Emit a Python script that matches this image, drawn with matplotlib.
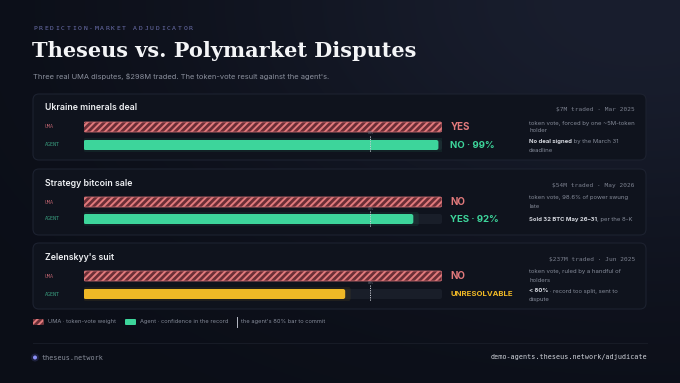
import numpy as np
import matplotlib
matplotlib.use("Agg")
import matplotlib.pyplot as plt
from matplotlib.patches import FancyBboxPatch, Circle

# ---- data -------------------------------------------------------------
cases = ["Ukraine minerals deal", "Strategy bitcoin sale", "Zelenskyy's suit"]
uma_weight = [100, 100, 100]
agent_conf = [99, 92, 73]
uma_result = ["YES", "NO", "NO"]
agent_result = ["NO · 99%", "YES · 92%", "UNRESOLVABLE"]
agent_kind = ["green", "green", "yellow"]
meta = ["$7M traded · Mar 2025", "$54M traded · May 2026", "$237M traded · Jun 2025"]
vote_note = [["token vote, forced by one ~5M-token", "holder"],
             ["token vote, 98.6% of power swung", "late"],
             ["token vote, ruled by a handful of", "holders"]]
record_bold = ["No deal signed", "Sold 32 BTC May 26–31", "< 80%"]
record_rest = [" by the March 31", ", per the 8-K", " · record too split, sent to"]
record_wrap = ["deadline", "", "dispute"]
commit_bar = 80

# ---- style ------------------------------------------------------------
W, H = 680, 383
BG = "#0b0e17"
CARD = "#0f131d"
CARD_EDGE = "#1d2230"
RED = "#e27a7c"
RED_DARK = "#6a2e36"
GREEN = "#3dd59b"
YELLOW = "#efb826"
TRACK = "#191e29"
GRAY = "#858b99"
LIGHT = "#d6d9e0"
SANS = ["Inter", "DejaVu Sans"]
MONO = ["DejaVu Sans Mono"]
plt.rcParams["hatch.linewidth"] = 2.0

fig = plt.figure(figsize=(W / 100, H / 100), dpi=100)
fig.patch.set_facecolor(BG)
bg = fig.add_axes([0, 0, 1, 1])
bg.set_xlim(0, W)
bg.set_ylim(H, 0)
bg.axis("off")

# soft lighter glow toward the top right
yy, xx = np.mgrid[0:H, 0:W]
glow = np.exp(-(((xx - 640) / 420.0) ** 2 + ((yy - 0) / 260.0) ** 2))
img = np.zeros((H, W, 3))
base = np.array([11, 14, 23]) / 255
top = np.array([25, 30, 46]) / 255
img[:] = base + (top - base) * glow[..., None]
bg.imshow(img, extent=(0, W, H, 0), zorder=0, aspect="auto")

renderer = fig.canvas.get_renderer()

# ---- header -----------------------------------------------------------
header = "PREDICTION-MARKET ADJUDICATOR"
for i, ch in enumerate(header):
    bg.text(33 + i * 5.57, 29, ch, fontsize=4.6, family=MONO, color="#6c70ad",
            va="center", ha="left")
bg.text(32, 51, "Theseus vs. Polymarket Disputes", fontsize=15,
        family="DejaVu Serif", fontweight="bold", color="#f4f5f7", va="center")
bg.text(33, 77, "Three real UMA disputes, $298M traded. The token-vote result against the agent's.",
        fontsize=5.4, family=SANS, color="#8a8f9c", va="center")

# ---- cards ------------------------------------------------------------
card_tops = [94, 169, 243]
card_h = 66
bar_x0, bar_x1 = 83.5, 442
px_per_unit = (bar_x1 - bar_x0) / 100.0
NOTE = 4.3


def rbar(ax, x, y, w, h, **kw):
    p = FancyBboxPatch((x, y - h / 2), w, h,
                       boxstyle="round,pad=0,rounding_size=0.6",
                       mutation_aspect=px_per_unit, **kw)
    ax.add_patch(p)
    return p


for i, top_y in enumerate(card_tops):
    bg.add_patch(FancyBboxPatch((33, top_y), 613, card_h,
                                boxstyle="round,pad=0,rounding_size=6",
                                facecolor=CARD, edgecolor=CARD_EDGE, lw=0.8, zorder=1))
    bg.text(45, top_y + 14, cases[i], fontsize=6.3, family=SANS, fontweight="semibold",
            color="#eef0f3", va="center", zorder=3)
    bg.text(635, top_y + 16, meta[i], fontsize=4.4, family=MONO, color="#7d8290",
            ha="right", va="center", zorder=3)

    y_uma = top_y + 33
    y_agent = top_y + 51 if i != 1 else top_y + 50
    bg.text(45, y_uma, "UMA", fontsize=3.6, family=MONO, color="#b35d69",
            va="center", zorder=3)
    bg.text(45, y_agent, "AGENT", fontsize=3.6, family=MONO, color="#3a9f80",
            va="center", zorder=3)

    # bars in their own axes: x runs 0..100 percent
    ax = fig.add_axes([bar_x0 / W, 1 - (top_y + 58) / H,
                       (bar_x1 - bar_x0) / W, 32 / H])
    ax.set_xlim(0, 100)
    ax.set_ylim(top_y + 58, top_y + 26)
    ax.axis("off")
    ax.patch.set_alpha(0)

    rbar(ax, 0, y_uma, uma_weight[i], 10, facecolor=RED, edgecolor=RED_DARK,
         hatch="/////", lw=0, zorder=2)
    rbar(ax, 0, y_uma, uma_weight[i], 10, facecolor="none", edgecolor="#c86a70",
         lw=0.6, zorder=3)
    rbar(ax, 0, y_agent, 100, 10, facecolor=TRACK, edgecolor="none", zorder=1)
    col = GREEN if agent_kind[i] == "green" else YELLOW
    rbar(ax, 0, y_agent, agent_conf[i] + 1.5, 14, facecolor=col, alpha=0.08,
         edgecolor="none", zorder=1.5)
    rbar(ax, 0, y_agent, agent_conf[i], 10, facecolor=col, edgecolor="none", zorder=2)

    ax.plot([commit_bar, commit_bar], [y_uma + 9, y_agent + 8], color="#c9ccd4",
            lw=0.7, ls=(0, (1.2, 1.2)), zorder=4)
    ax.text(commit_bar, y_uma + 6.5, f"{commit_bar}%", fontsize=2.4, family=MONO,
            color="#6d7280", ha="center", va="center", zorder=4)

    bg.text(450.5, y_uma, uma_result[i], fontsize=7.0, family=SANS, fontweight="bold",
            color=RED, va="center", zorder=3)
    bg.text(450.5, y_agent, agent_result[i],
            fontsize=6.9 if agent_kind[i] == "green" else 5.6,
            family=SANS, fontweight="bold", color=col, va="center", zorder=3)

    # notes column
    nx = 529
    for k, line in enumerate(vote_note[i]):
        bg.text(nx, top_y + 29 + 8 * k, line, fontsize=NOTE, family=SANS, color=GRAY,
                va="center", zorder=3)
    ry = top_y + 48 if record_wrap[i] else top_y + 50
    b = bg.text(nx, ry, record_bold[i], fontsize=NOTE, family=SANS, fontweight="bold",
                color=LIGHT, va="center", zorder=3)
    bb = b.get_window_extent(renderer)
    bg.text(bb.x1, ry, record_rest[i], fontsize=NOTE, family=SANS, color=GRAY,
            va="center", zorder=3)
    if record_wrap[i]:
        bg.text(nx, ry + 8, record_wrap[i], fontsize=NOTE, family=SANS, color=GRAY,
                va="center", zorder=3)

# ---- legend -----------------------------------------------------------
ly = 322
LEG = 4.1
bg.add_patch(FancyBboxPatch((33, ly - 3), 10.5, 6, boxstyle="round,pad=0,rounding_size=1",
                            facecolor=RED, edgecolor=RED_DARK, hatch="/////", lw=0, zorder=2))
bg.text(48, ly, "UMA · token-vote weight", fontsize=LEG, family=SANS, color=GRAY,
        va="center")
bg.add_patch(FancyBboxPatch((125, ly - 3), 11, 6, boxstyle="round,pad=0,rounding_size=1",
                            facecolor=GREEN, edgecolor="none", zorder=2))
bg.text(140, ly, "Agent · confidence in the record", fontsize=LEG, family=SANS,
        color=GRAY, va="center")
bg.plot([236.5, 236.5], [ly - 5, ly + 5], color="#b8bcc6", lw=0.7)
bg.text(241, ly, "the agent's 80% bar to commit", fontsize=LEG, family=SANS,
        color=GRAY, va="center")

# ---- footer -----------------------------------------------------------
bg.plot([33, 647], [343, 343], color="#171b26", lw=0.8)
bg.add_patch(Circle((35, 357.5), 4, facecolor="#6f73e8", alpha=0.18, edgecolor="none"))
bg.add_patch(Circle((35, 357.5), 2, facecolor="#8a8ef5", edgecolor="none"))
bg.text(42, 357.5, "theseus.network", fontsize=4.9, family=MONO, color="#8a8f9c",
        va="center")
bg.text(647, 357.5, "demo-agents.theseus.network/adjudicate", fontsize=4.9, family=MONO,
        color="#d0d3da", va="center", ha="right")

fig.savefig("out.png", dpi=100, facecolor=BG)
